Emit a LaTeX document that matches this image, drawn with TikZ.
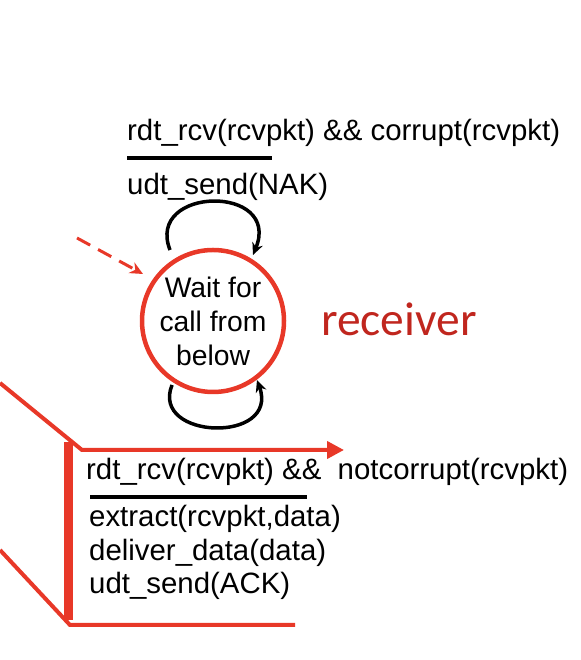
\documentclass[tikz,border=0pt]{standalone}
\usepackage{fontspec}
\setmainfont{Liberation Sans}
\newfontfamily\carlito{Carlito}
\usetikzlibrary{arrows.meta}
\definecolor{fsmred}{RGB}{232,56,40}
\definecolor{lblred}{RGB}{192,38,30}
\begin{document}
\begin{tikzpicture}[x=1pt,y=1pt,
  lbl/.style={inner sep=0pt,anchor=base west,font=\fontsize{29.4}{34}\selectfont},
  loop/.style={line width=3.5pt,-{Stealth[length=12pt,width=11pt]}},
  redline/.style={draw=fsmred,line width=4pt}]
\useasboundingbox (0,0) rectangle (580,660);
% state
\node[circle,draw=fsmred,line width=4.5pt,minimum size=142pt,inner sep=0pt,
  align=center,font=\fontsize{28.3}{34}\selectfont] (wait) at (213,339)
  {Wait for\\call from\\below};
\node[inner sep=0pt,anchor=base west,text=lblred,font=\carlito\fontsize{47.5}{52}\selectfont] (recv) at (321,324) {receiver};
% top self loop
\coordinate (t1) at (170,410);
\coordinate (t2) at (253,405);
\draw[loop] (t1) .. controls (145,474) and (282,476) .. (t2);
% bottom self loop
\coordinate (b1) at (172,275);
\coordinate (b2) at (257,280);
\draw[loop] (b1) .. controls (150,220) and (280,216) .. (b2);
% initial dashed arrow
\coordinate (init) at (77,422);
\coordinate (initend) at (143,386);
\draw[draw=fsmred,line width=3pt,dash pattern=on 15pt off 9pt,
  -{Stealth[length=13pt,width=12pt]}] (init) -- (initend);
% top label
\node[lbl] (c1) at (127,519) {rdt\_rcv(rcvpkt) \&\& corrupt(rcvpkt)};
\coordinate (u1a) at (127,502);
\coordinate (u1b) at (272,502);
\draw[line width=3.5pt] (u1a) -- (u1b);
\node[lbl] (a1) at (127,465) {udt\_send(NAK)};
% bottom label
\node[lbl] (c2) at (86,180) {rdt\_rcv(rcvpkt) \&\&\ \ notcorrupt(rcvpkt)};
\coordinate (u2a) at (90,163);
\coordinate (u2b) at (307,163);
\draw[line width=3.5pt] (u2a) -- (u2b);
\node[lbl] (a2) at (89,133) {extract(rcvpkt,data)};
\node[lbl] (a3) at (89,99) {deliver\_data(data)};
\node[lbl] (a4) at (89,66) {udt\_send(ACK)};
% red zoom lines
\coordinate (z1) at (0,277);
\coordinate (z2) at (82,210);
\coordinate (z3) at (344,210);
\draw[redline,-{Triangle[length=17pt,width=17pt]}] (z1) -- (z2) -- (z3);
\coordinate (z4) at (0,110);
\coordinate (z5) at (70,35);
\coordinate (z6) at (295,35);
\draw[redline] (z4) -- (z5) -- (z6);
\coordinate (bt) at (68,218);
\coordinate (bb) at (68,40);
\draw[draw=fsmred,line width=9pt] (bt) -- (bb);
\end{tikzpicture}
\end{document}
